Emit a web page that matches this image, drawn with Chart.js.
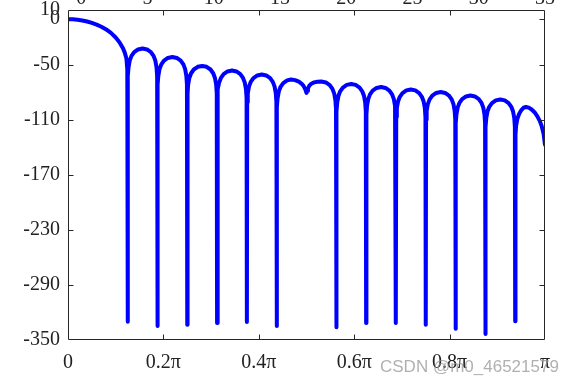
<!DOCTYPE html>
<html>
<head>
<meta charset="utf-8">
<script src="https://cdn.jsdelivr.net/npm/chart.js@4/dist/chart.umd.min.js"></script>
<style>
  html, body { margin: 0; padding: 0; background: #ffffff; }
  #wrap { position: relative; width: 571px; height: 388px; overflow: hidden; }
  #c { display: block; }
  #wm { position: absolute; left: 380px; top: 357px; font: 17px "Liberation Sans", Arial, sans-serif;
        color: rgba(150,150,150,0.75); white-space: nowrap; }
</style>
</head>
<body>
<div id="wrap">
  <canvas id="c" width="571" height="388"></canvas>
  <div id="wm">CSDN @m0_46521579</div>
</div>
<script>
// ---- data ----
const xTicks = [0, 0.2, 0.4, 0.6, 0.8, 1];
const xTickLabels = ['0', '0.2\u03C0', '0.4\u03C0', '0.6\u03C0', '0.8\u03C0', '\u03C0'];
const yTicks = [10, 0, -50, -110, -170, -230, -290, -350];
const topTicks = [0, 5, 10, 15, 20, 25, 30, 35];
const topMin = -1, topMax = 35;

// normalized frequency (units of pi)
const freqPi = [
  0, 0.01, 0.02, 0.03, 0.04, 0.05, 0.06, 0.07, 0.08, 0.09, 0.1, 0.105, 0.11, 0.115, 0.119, 0.1225, 0.1243, 0.125,
  0.125625, 0.126875, 0.129375, 0.133125, 0.13875, 0.146875, 0.15625, 0.165625, 0.17375, 0.179375, 0.183125, 0.185625, 0.186875, 0.1875,
  0.188125, 0.189375, 0.191875, 0.195625, 0.20125, 0.209375, 0.21875, 0.228125, 0.23625, 0.241875, 0.245625, 0.248125, 0.249375, 0.25,
  0.250625, 0.251875, 0.254375, 0.258125, 0.26375, 0.271875, 0.28125, 0.290625, 0.29875, 0.304375, 0.308125, 0.310625, 0.311875, 0.3125,
  0.313125, 0.314375, 0.316875, 0.320625, 0.32625, 0.334375, 0.34375, 0.353125, 0.36125, 0.366875, 0.370625, 0.373125, 0.374375, 0.375,
  0.375625, 0.376875, 0.379375, 0.383125, 0.38875, 0.396875, 0.40625, 0.415625, 0.42375, 0.429375, 0.433125, 0.435625, 0.436875, 0.4375,
  0.438125, 0.439375, 0.441875, 0.445625, 0.45125, 0.459375, 0.4675, 0.476, 0.484, 0.49, 0.494, 0.497, 0.4988, 0.5,
  0.5012, 0.503, 0.506, 0.51, 0.516, 0.523, 0.531, 0.540625, 0.54875, 0.554375, 0.558125, 0.560625, 0.561875, 0.5625,
  0.563125, 0.564375, 0.566875, 0.570625, 0.57625, 0.584375, 0.59375, 0.603125, 0.61125, 0.616875, 0.620625, 0.623125, 0.624375, 0.625,
  0.625625, 0.626875, 0.629375, 0.633125, 0.63875, 0.646875, 0.65625, 0.665625, 0.67375, 0.679375, 0.683125, 0.685625, 0.686875, 0.6875,
  0.688125, 0.689375, 0.691875, 0.695625, 0.70125, 0.709375, 0.71875, 0.728125, 0.73625, 0.741875, 0.745625, 0.748125, 0.749375, 0.75,
  0.750625, 0.751875, 0.754375, 0.758125, 0.76375, 0.771875, 0.78125, 0.790625, 0.79875, 0.804375, 0.808125, 0.810625, 0.811875, 0.8125,
  0.813125, 0.814375, 0.816875, 0.820625, 0.82625, 0.834375, 0.84375, 0.853125, 0.86125, 0.866875, 0.870625, 0.873125, 0.874375, 0.875,
  0.875625, 0.876875, 0.879375, 0.883125, 0.88875, 0.896875, 0.90625, 0.915625, 0.92375, 0.929375, 0.933125, 0.935625, 0.936875, 0.9375,
  0.938125, 0.939375, 0.941875, 0.945625, 0.95, 0.955, 0.96, 0.966, 0.972, 0.978, 0.984, 0.989, 0.993, 0.997, 1.0
];
// magnitude (dB)
const magDb = [
  0, -0.15, -0.6, -1.4, -2.5, -4, -6, -8.3, -11.2, -15, -20, -23.2, -27, -31.5, -36.5, -43, -55, -330,
  -62.1, -52.5, -45.2, -40, -35.9, -33, -32, -33, -35.9, -40, -45.2, -52.5, -62.1, -334.7,
  -71.4, -61.8, -54.5, -49.3, -45.2, -42.3, -41.3, -42.3, -45.2, -49.3, -54.5, -61.8, -71.4, -333.3,
  -81.1, -71.5, -64.2, -59, -54.9, -52, -51, -52, -54.9, -59, -64.2, -71.5, -81.1, -331.5,
  -86.1, -76.5, -69.2, -64, -59.9, -57, -56, -57, -59.9, -64, -69.2, -76.5, -86.1, -330.4,
  -90.5, -80.9, -73.6, -68.4, -64.3, -61.4, -60.4, -61.4, -64.3, -68.4, -73.6, -80.9, -90.5, -334.7,
  -95.9, -86.3, -79, -73.8, -69.7, -66.8, -65.8, -66.5, -68.2, -70.5, -73, -76, -78.5, -80.5,
  -78.3, -75.5, -72.5, -70.5, -69, -68.2, -68, -69, -71.9, -76, -81.2, -88.5, -98.1, -336,
  -100.8, -91.2, -83.9, -78.7, -74.6, -71.7, -70.7, -71.7, -74.6, -78.7, -83.9, -91.2, -100.8, -331.5,
  -104.1, -94.5, -87.2, -82, -77.9, -75, -74, -75, -77.9, -82, -87.2, -94.5, -104.1, -331.5,
  -106.8, -97.2, -89.9, -84.7, -80.6, -77.7, -76.7, -77.7, -80.6, -84.7, -89.9, -97.2, -106.8, -333.3,
  -109.6, -100, -92.7, -87.5, -83.4, -80.5, -79.5, -80.5, -83.4, -87.5, -92.7, -100, -109.6, -337.7,
  -113.4, -103.8, -96.5, -91.3, -87.2, -84.3, -83.3, -84.3, -87.2, -91.3, -96.5, -103.8, -113.4, -343.5,
  -117.7, -108.1, -100.8, -95.6, -91.5, -88.6, -87.6, -88.6, -91.5, -95.6, -100.8, -108.1, -117.7, -329.6,
  -125.9, -116.3, -109, -103.5, -99.5, -96.6, -95.8, -96.5, -98.5, -101.5, -106, -111, -116.5, -125, -137
];

const serif = '"Liberation Serif", "Times New Roman", serif';
const tickFont = { family: serif, size: 20, lineHeight: 1 };
const axisColor = '#262626';

const framePlugin = {
  id: 'frame',
  afterDatasetsDraw(chart) {
    const { ctx, chartArea, scales } = chart;
    const L = Math.round(chartArea.left) + 0.5, R = Math.round(chartArea.right) - 0.5;
    const T = Math.round(chartArea.top) + 0.5, B = Math.round(chartArea.bottom) - 0.5;
    const tl = 5;
    ctx.save();
    ctx.strokeStyle = axisColor;
    ctx.lineWidth = 1;
    ctx.beginPath();
    ctx.rect(L, T, R - L, B - T);
    xTicks.forEach(v => {
      const px = Math.round(scales.x.getPixelForValue(v)) + 0.5;
      if (px <= L + 1 || px >= R - 1) return;
      ctx.moveTo(px, B); ctx.lineTo(px, B - tl);
      ctx.moveTo(px, T); ctx.lineTo(px, T + tl);
    });
    yTicks.forEach(v => {
      const py = Math.round(scales.y.getPixelForValue(v)) + 0.5;
      if (py <= T + 1 || py >= B - 1) return;
      ctx.moveTo(L, py); ctx.lineTo(L + tl, py);
      ctx.moveTo(R, py); ctx.lineTo(R - tl, py);
    });
    ctx.stroke();
    // top tick labels (cut off by the window edge, as in the reference)
    ctx.fillStyle = '#222';
    ctx.font = '20px ' + serif;
    ctx.textAlign = 'center';
    ctx.textBaseline = 'alphabetic';
    topTicks.forEach(t => {
      const v = (t - topMin) / (topMax - topMin);
      ctx.fillText(String(t), scales.x.getPixelForValue(v), 4);
    });
    ctx.restore();
  }
};

new Chart(document.getElementById('c'), {
  type: 'line',
  data: {
    datasets: [{
      data: freqPi.map((f, i) => ({ x: f, y: magDb[i] })),
      borderColor: '#0000ff',
      borderWidth: 4,
      pointRadius: 0,
      fill: false,
      tension: 0,
      borderJoinStyle: 'round',
      borderCapStyle: 'round'
    }]
  },
  options: {
    responsive: false,
    animation: false,
    events: [],
    layout: { padding: { top: 10, right: 26, left: 0, bottom: 0 } },
    plugins: { legend: { display: false }, tooltip: { enabled: false } },
    scales: {
      x: {
        type: 'linear', min: 0, max: 1,
        afterBuildTicks: s => { s.ticks = xTicks.map(v => ({ value: v })); },
        afterFit: s => { s.height = 48; s.paddingLeft = 0; s.paddingRight = 0; },
        ticks: {
          autoSkip: false, maxRotation: 0, padding: 13, color: '#222', font: tickFont,
          callback: v => { const i = xTicks.findIndex(t => Math.abs(t - v) < 1e-9); return i >= 0 ? xTickLabels[i] : ''; }
        },
        grid: { display: false, drawTicks: false },
        border: { display: false }
      },
      y: {
        type: 'linear', min: -350, max: 10,
        afterBuildTicks: s => { s.ticks = yTicks.map(v => ({ value: v })); },
        afterFit: s => { s.width = 68; s.paddingTop = 0; s.paddingBottom = 0; },
        ticks: { autoSkip: false, padding: 8, color: '#222', font: tickFont },
        grid: { display: false, drawTicks: false },
        border: { display: false }
      }
    }
  },
  plugins: [framePlugin]
});
</script>
</body>
</html>
